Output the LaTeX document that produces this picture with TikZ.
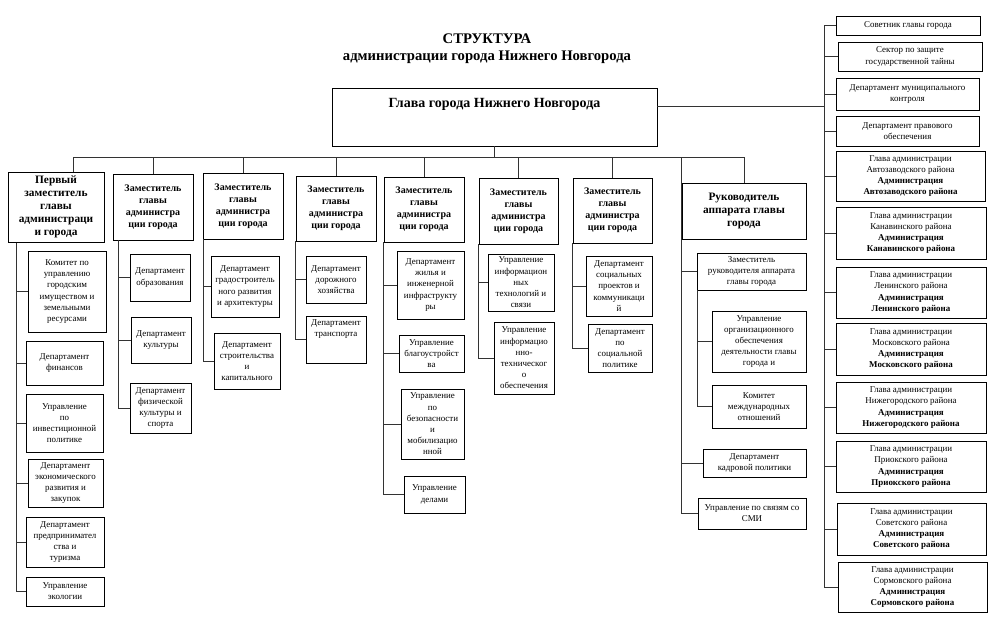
\documentclass[tikz,border=0pt]{standalone}
\usepackage{fontspec}
\setmainfont{Liberation Serif}

\begin{document}
\begin{tikzpicture}[x=0.75pt, y=-0.75pt,
	bx/.style 2 args={draw, rectangle, align=center, inner sep=0.5pt, line width=0.6pt,
		minimum width=#1*0.75pt, minimum height=#2*0.75pt, font=\fontsize{6.7}{8.4}\selectfont},
	head/.style={font=\bfseries\fontsize{7.5}{9}\selectfont},
	bighead/.style={font=\bfseries\fontsize{8.5}{9.75}\selectfont},
	link/.style={line width=0.6pt, black!80}]

	\useasboundingbox (0,0) rectangle (1000,628);

	\node (t0) at (487,48.5) [align=center, font=\bfseries\fontsize{11}{12.75}\selectfont] {СТРУКТУРА\\администрации города Нижнего Новгорода};
	\node (g0) at (494.5,117) [bx={325}{58}, font=\bfseries\fontsize{10.5}{12}\selectfont] {\parbox[c][42.5pt][t]{240pt}{\centering\vspace*{7pt}Глава города Нижнего Новгорода}};

	% heads
	\node (z1) at (56,207.5) [bx={96}{69}, bighead] {\parbox[c][51pt][t]{70pt}{\centering\vspace*{1.5pt}Первый\\заместитель\\главы\\администраци\\и города}};
	\node (z2) at (153,207) [bx={80}{66}, head] {Заместитель\\главы\\администра\\ции города};
	\node (z3) at (243,206) [bx={80}{66}, head] {Заместитель\\главы\\администра\\ции города};
	\node (z4) at (336,208.5) [bx={80}{65}, head] {Заместитель\\главы\\администра\\ции города};
	\node (z5) at (424,209.5) [bx={80}{65}, head] {Заместитель\\главы\\администра\\ции города};
	\node (z6) at (518.5,211) [bx={79}{66}, head] {Заместитель\\главы\\администра\\ции города};
	\node (z7) at (612.5,210.5) [bx={79}{65}, head] {Заместитель\\главы\\администра\\ции города};
	\node (r0) at (744,211) [bx={124}{56}, bighead] {Руководитель\\аппарата главы\\города};

	% departments
	\node (c11) at (67,291.5) [bx={78}{81}] {Комитет по\\управлению\\городским\\имуществом и\\земельными\\ресурсами};
	\node (c12) at (64.5,363) [bx={77}{44}] {Департамент\\финансов};
	\node (c13) at (64.5,423) [bx={77}{58}] {Управление\\по\\инвестиционной\\политике};
	\node (c14) at (65.5,483) [bx={75}{48}] {Департамент\\экономического\\развития и\\закупок};
	\node (c15) at (65,542) [bx={78}{50}] {Департамент\\предпринимател\\ства и\\туризма};
	\node (c16) at (65,591.5) [bx={78}{29}] {Управление\\экологии};

	\node (c21) at (160,277.5) [bx={60}{47}] {Департамент\\образования};
	\node (c22) at (161,340) [bx={60}{46}] {Департамент\\культуры};
	\node (c23) at (160.5,408) [bx={61}{50}] {Департамент\\физической\\культуры и\\спорта};

	\node (c31) at (245,286.5) [bx={68}{61}] {Департамент\\градостроитель\\ного развития\\и архитектуры};
	\node (c32) at (247,361) [bx={66}{56}] {Департамент\\строительства\\и\\капитального};

	\node (c41) at (336,279.5) [bx={60}{47}] {Департамент\\дорожного\\хозяйства};
	\node (c42) at (336,339.5) [bx={60}{47}] {\parbox[c][34pt][t]{44pt}{\centering\vspace*{2pt}Департамент\\транспорта}};

	\node (c51) at (430.5,285) [bx={67}{68}] {Департамент\\жилья и\\инженерной\\инфраструкту\\ры};
	\node (c52) at (431.5,353.5) [bx={65}{37}] {Управление\\благоустройст\\ва};
	\node (c53) at (432.5,424) [bx={63}{70}] {Управление\\по\\безопасности\\и\\мобилизацио\\нной};
	\node (c54) at (434.5,494.5) [bx={61}{37}] {Управление\\делами};

	\node (c61) at (521,282.5) [bx={66}{57}] {Управление\\информацион\\ных\\технологий и\\связи};
	\node (c62) at (524,358) [bx={60}{72}] {Управление\\информацио\\нно-\\техническог\\о\\обеспечения};

	\node (c71) at (619,286) [bx={66}{60}] {Департамент\\социальных\\проектов и\\коммуникаци\\й};
	\node (c72) at (620,348) [bx={64}{48}] {Департамент\\по\\социальной\\политике};

	\node (r1) at (751.5,271.5) [bx={109}{37}] {Заместитель\\руководителя аппарата\\главы города};
	\node (r11) at (759,341.5) [bx={94}{61}] {Управление\\организационного\\обеспечения\\деятельности главы\\города и};
	\node (r12) at (759,406.5) [bx={94}{43}] {Комитет\\международных\\отношений};
	\node (r2) at (754.5,463) [bx={103}{28}] {Департамент\\кадровой политики};
	\node (r3) at (752,513.5) [bx={108}{31}] {Управление по связям со\\СМИ};

	% right column
	\node (s1) at (908,25.5) [bx={144}{19}] {Советник главы города};
	\node (s2) at (910,56.5) [bx={144}{29}] {Сектор по защите\\государственной тайны};
	\node (s3) at (907.5,94) [bx={143}{32}] {Департамент муниципального\\контроля};
	\node (s4) at (907.5,131) [bx={143}{30}] {Департамент правового\\обеспечения};
	\node (s5) at (910.5,176) [bx={149}{50}] {Глава администрации\\Автозаводского района\\\textbf{Администрация}\\\textbf{Автозаводского района}};
	\node (s6) at (911,233) [bx={150}{52}] {Глава администрации\\Канавинского района\\\textbf{Администрация}\\\textbf{Канавинского района}};
	\node (s7) at (911,292.5) [bx={150}{51}] {Глава администрации\\Ленинского района\\\textbf{Администрация}\\\textbf{Ленинского района}};
	\node (s8) at (911,349) [bx={150}{52}] {Глава администрации\\Московского района\\\textbf{Администрация}\\\textbf{Московского района}};
	\node (s9) at (911,407.5) [bx={150}{51}] {Глава администрации\\Нижегородского района\\\textbf{Администрация}\\\textbf{Нижегородского района}};
	\node (s10) at (911,466.5) [bx={150}{51}] {Глава администрации\\Приокского района\\\textbf{Администрация}\\\textbf{Приокского района}};
	\node (s11) at (911.5,529) [bx={149}{52}] {Глава администрации\\Советского района\\\textbf{Администрация}\\\textbf{Советского района}};
	\node (s12) at (912.5,587) [bx={149}{50}] {Глава администрации\\Сормовского района\\\textbf{Администрация}\\\textbf{Сормовского района}};

	% buses
	\coordinate (tl) at (73,157);
	\coordinate (rb) at ([xshift=-8.25pt]s1.west);
	\coordinate (b1) at ([xshift=6.75pt]z1.south west);
	\coordinate (b2) at ([xshift=4.5pt]z2.south west);
	\coordinate (b3) at ([xshift=0.75pt]z3.south west);
	\coordinate (b4) at (z4.south west);
	\coordinate (b5) at (z5.south west);
	\coordinate (b6) at (z6.south west);
	\coordinate (b7) at (z7.south west);
	\coordinate (b8) at (r0.south west);
	\coordinate (b9) at ([xshift=0.75pt]r1.south west);

	\draw[link] (g0.south) -- (g0.south |- tl);
	\draw[link] (tl |- z1.north) -- (tl) -- (r0.north |- tl) -- (r0.north);
	\draw[link] (z2.north |- tl) -- (z2.north) (z3.north |- tl) -- (z3.north)
		(z4.north |- tl) -- (z4.north) (z5.north |- tl) -- (z5.north)
		(z6.north |- tl) -- (z6.north) (z7.north |- tl) -- (z7.north);
	\draw[link] ([yshift=8.25pt]g0.east) -- ([yshift=8.25pt]g0.east -| rb);

	\draw[link] (s1.west) -| (rb |- s12.west) -- (s12.west);
	\draw[link] (s2.west) -- (s2.west -| rb) (s3.west) -- (s3.west -| rb)
		(s4.west) -- (s4.west -| rb) (s5.west) -- (s5.west -| rb)
		(s6.west) -- (s6.west -| rb) (s7.west) -- (s7.west -| rb)
		(s8.west) -- (s8.west -| rb) (s9.west) -- (s9.west -| rb)
		(s10.west) -- (s10.west -| rb) (s11.west) -- (s11.west -| rb);

	\draw[link] (b1) |- (c16.west) (c11.west) -- (c11.west -| b1) (c12.west) -- (c12.west -| b1)
		(c13.west) -- (c13.west -| b1) (c14.west) -- (c14.west -| b1) (c15.west) -- (c15.west -| b1);
	\draw[link] (b2) |- (c23.west) (c21.west) -- (c21.west -| b2) (c22.west) -- (c22.west -| b2);
	\draw[link] (b3) |- (c32.west) (c31.west) -- (c31.west -| b3);
	\draw[link] (b4) |- (c42.west) (c41.west) -- (c41.west -| b4);
	\draw[link] (b5) |- (c54.west) (c51.west) -- (c51.west -| b5) (c52.west) -- (c52.west -| b5)
		(c53.west) -- (c53.west -| b5);
	\draw[link] (b6) |- (c62.west) (c61.west) -- (c61.west -| b6);
	\draw[link] (b7) |- (c72.west) (c71.west) -- (c71.west -| b7);
	\draw[link] (r0.north west |- tl) -- (b8) |- (r3.west) (r1.west) -- (r1.west -| b8)
		(r2.west) -- (r2.west -| b8);
	\draw[link] (b9) |- (r12.west) (r11.west) -- (r11.west -| b9);
\end{tikzpicture}
\end{document}
